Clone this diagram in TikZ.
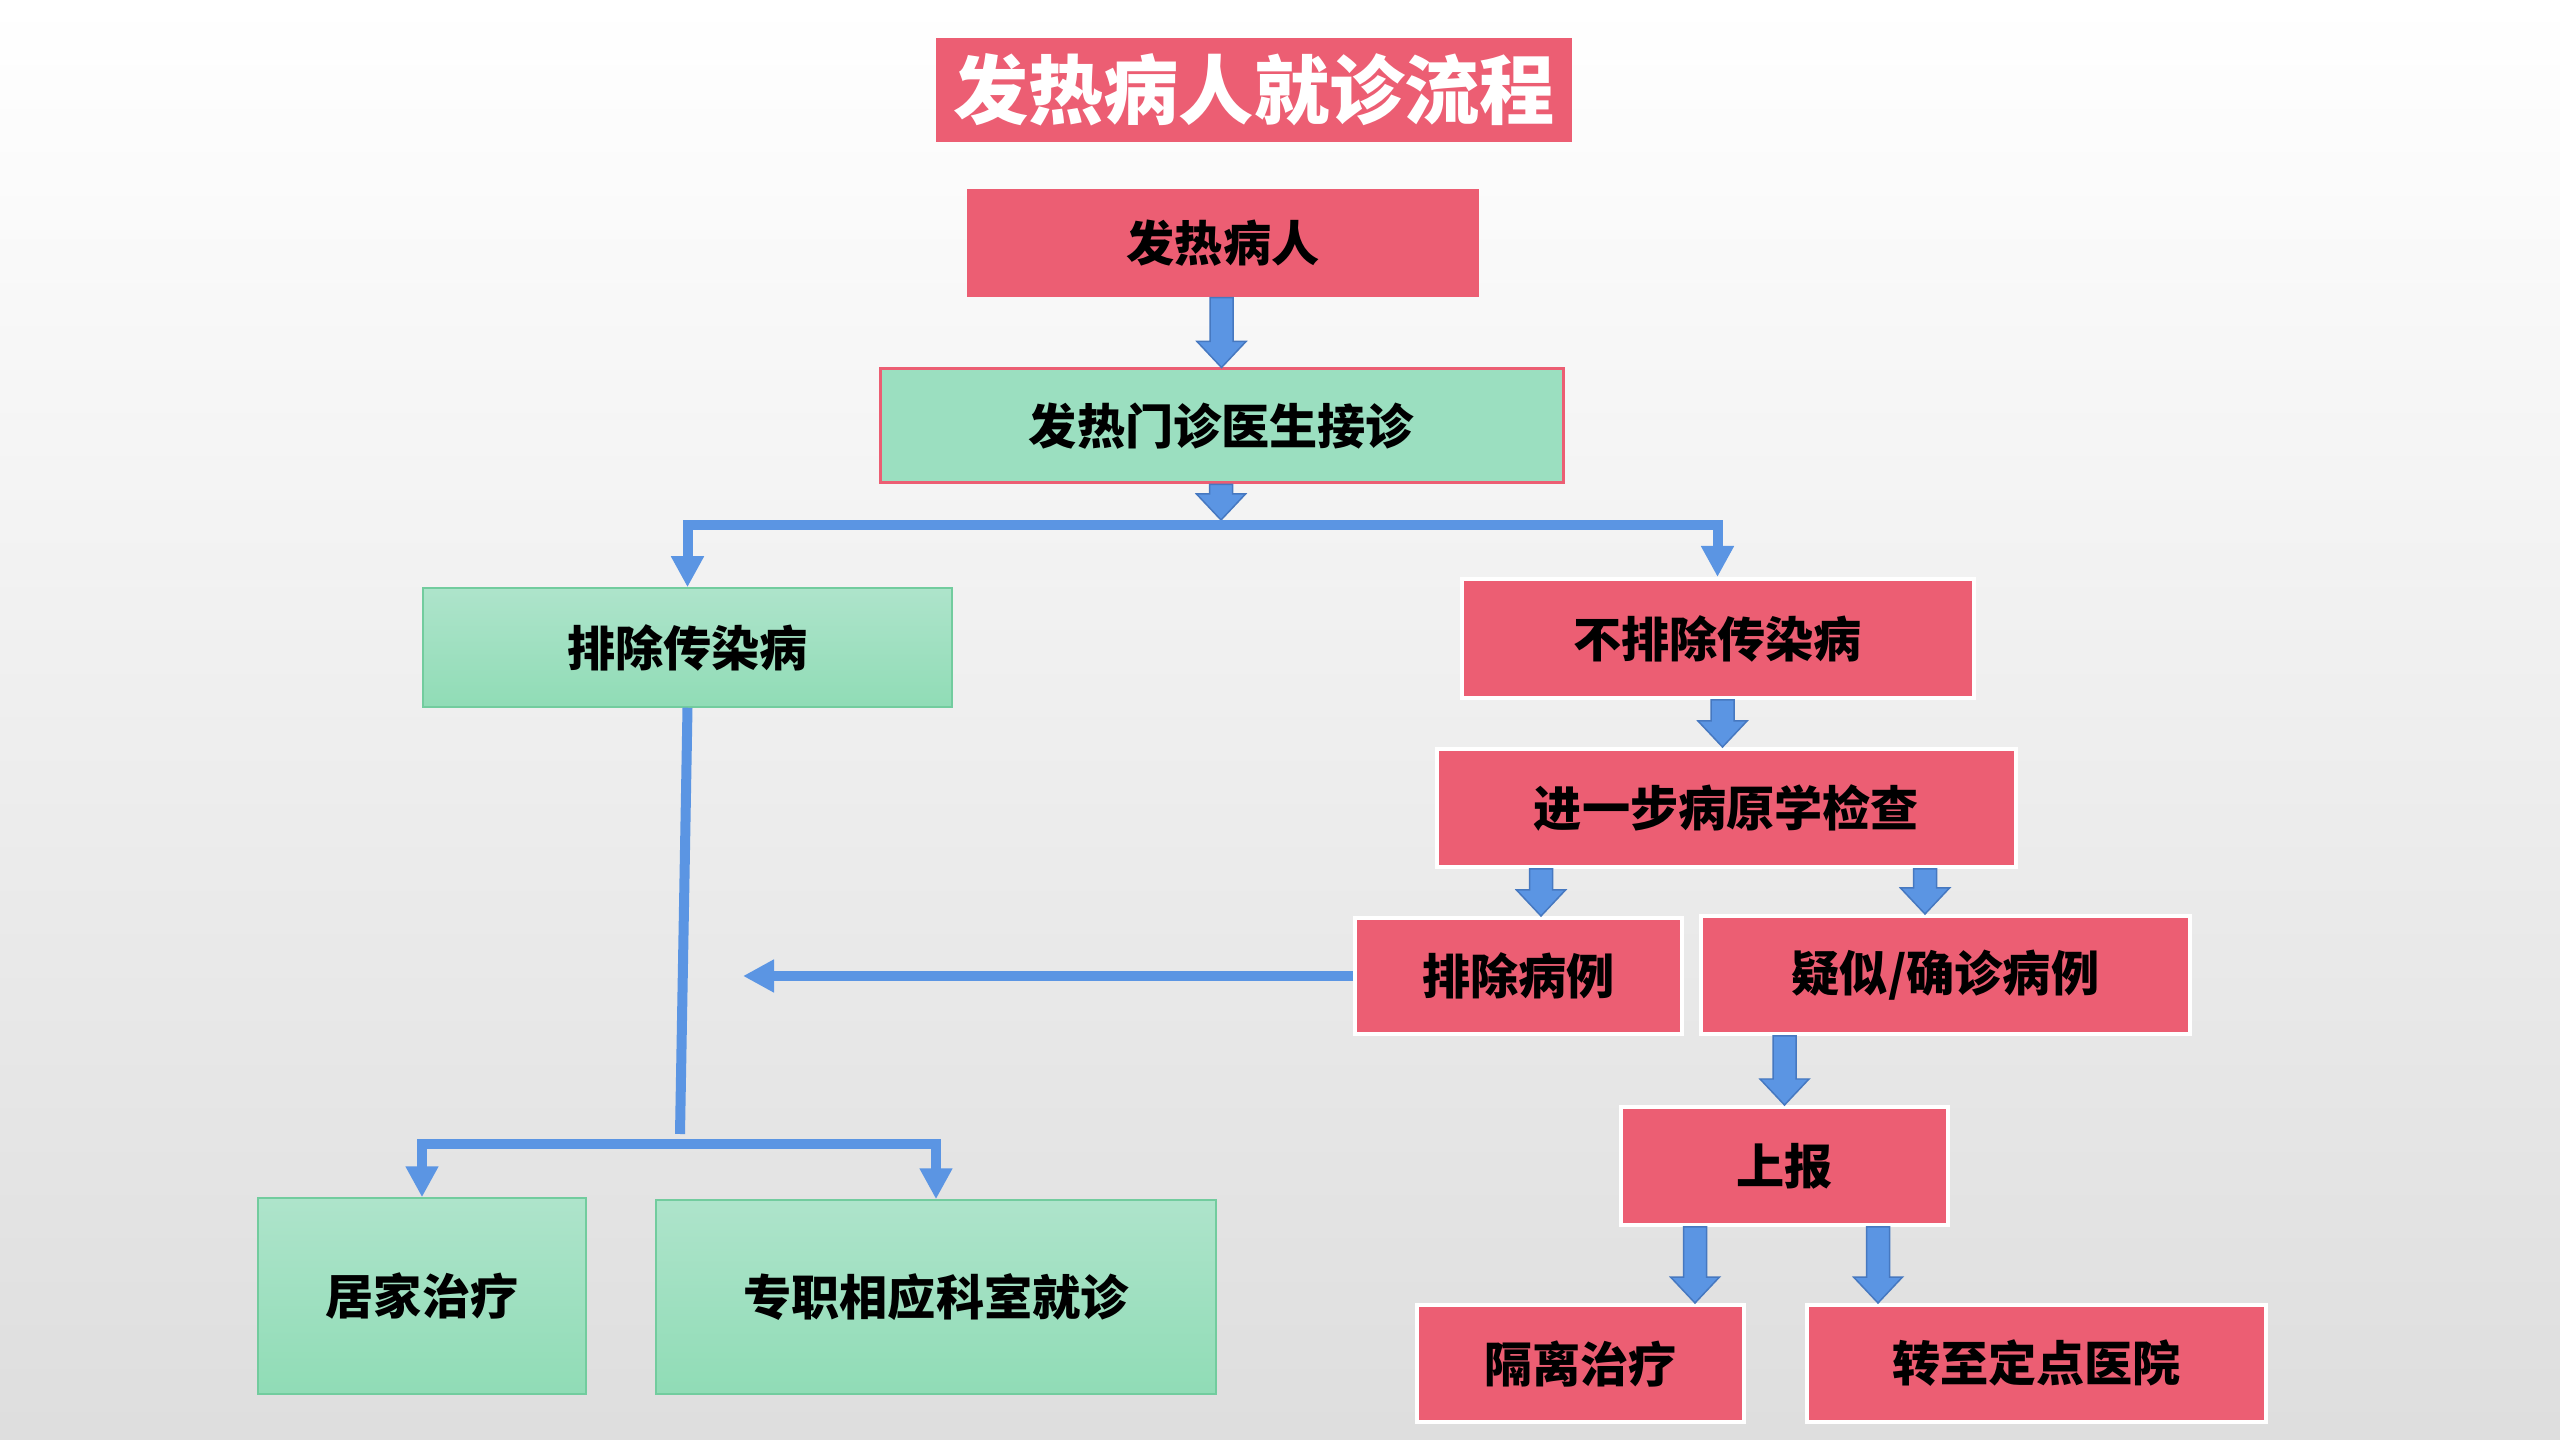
\documentclass[tikz,border=0pt]{standalone}
\usepackage{fontspec}
\usepackage{tikz}
\usetikzlibrary{arrows.meta,calc}
\newfontfamily\cjk{Noto Sans CJK SC}

\definecolor{boxred}{HTML}{EC5E73}
\definecolor{clinicgreen}{HTML}{9BDFC0}
\definecolor{greentop}{HTML}{AEE4CB}
\definecolor{greenbot}{HTML}{90DCB6}
\definecolor{greenline}{HTML}{72CC9E}
\definecolor{flowblue}{HTML}{5B95E3}
\definecolor{arrowedge}{HTML}{4678C0}

\begin{document}
\begin{tikzpicture}[x=0.1mm, y=-0.1mm,
    box/.style={rectangle, inner sep=0pt, text=black,
        font=\cjk\bfseries\fontsize{13.7pt}{16pt}\selectfont},
    redbox/.style={box, fill=boxred, draw=white, line width=0.4mm},
    greenbox/.style={box, top color=greentop, bottom color=greenbot,
        draw=greenline, line width=0.15mm},
    flow/.style={draw=flowblue, line width=1mm},
    flowtip/.tip={Triangle[width=3.1mm, length=3.1mm]},
    blockarrow/.style={draw=arrowedge, fill=flowblue, line width=0.15mm,
        to path={let \p1=(\tikztostart), \p2=(\tikztotarget) in
            (\x2-1.15mm,\y1) -- (\x2-1.15mm,\y2+2.6mm) -- (\x2-2.45mm,\y2+2.6mm)
            -- (\x2,\y2) -- (\x2+2.45mm,\y2+2.6mm) -- (\x2+1.15mm,\y2+2.6mm)
            -- (\x2+1.15mm,\y1) -- cycle}}]

    % background
    \fill[top color=white, bottom color=black!13] (0,0) rectangle (2560,1440);
    \useasboundingbox (0,0) rectangle (2560,1440);

    % title
    \node[box, fill=boxred, text=white, minimum width=63.6mm, minimum height=10.4mm,
        font=\cjk\bfseries\fontsize{21.4pt}{25pt}\selectfont] (title) at (1254,90) {发热病人就诊流程};

    \node[box, fill=boxred, minimum width=51.2mm, minimum height=10.8mm] (fever) at (1223,243) {发热病人};
    \node[box, fill=clinicgreen, draw=boxred, line width=0.3mm, minimum width=68.3mm,
        minimum height=11.4mm] (clinic) at (1221.5,426) {发热门诊医生接诊};

    % left branch
    \node[greenbox, minimum width=52.9mm, minimum height=11.9mm] (ruleout) at (687.5,647.5) {排除传染病};
    \node[greenbox, minimum width=32.8mm, minimum height=19.6mm] (home) at (422,1296) {居家治疗};
    \node[greenbox, minimum width=56mm, minimum height=19.4mm] (dept) at (936,1297) {专职相应科室就诊};

    % right branch
    \node[redbox, minimum width=51.2mm, minimum height=11.9mm] (notout) at (1717.5,638.5) {不排除传染病};
    \node[redbox, minimum width=57.9mm, minimum height=11.8mm] (check) at (1726.5,808) {进一步病原学检查};
    \node[redbox, minimum width=32.7mm, minimum height=11.6mm] (excl) at (1518.5,976) {排除病例};
    \node[redbox, minimum width=48.9mm, minimum height=11.8mm] (susp) at (1945.5,975) {疑似/确诊病例};
    \node[redbox, minimum width=32.7mm, minimum height=11.8mm] (report) at (1784.5,1166) {上报};
    \node[redbox, minimum width=32.7mm, minimum height=11.7mm] (isolate) at (1580.5,1363.5) {隔离治疗};
    \node[redbox, minimum width=45.9mm, minimum height=11.7mm] (transfer) at (2036.5,1363.5) {转至定点医院};

    \coordinate (fork) at (1221,525);
    \coordinate (merge) at (680,1134);
    \coordinate (fork2) at (680,1144);
    \coordinate (back) at (743,976);

    % block arrows
    \draw[blockarrow] (fever.south) to (clinic.north);
    \draw[blockarrow] (clinic.south) to ([yshift=0.5mm]fork);
    \draw[blockarrow] (notout.south) to ([xshift=-0.4mm]check.north);
    \draw[blockarrow] (check.south) to ([xshift=2.25mm]excl.north);
    \draw[blockarrow] (check.south) to ([xshift=-2.05mm]susp.north);
    \draw[blockarrow] (susp.south) to (report.north);
    \draw[blockarrow] (report.south) to ([xshift=11.45mm]isolate.north);
    \draw[blockarrow] (report.south) to ([xshift=-15.85mm]transfer.north);

    % line connectors
    \draw[flow, flowtip-flowtip] (ruleout.north) |- (fork) -| (notout.north);
    \draw[flow] (ruleout.south) -- (merge);
    \draw[flow, flowtip-flowtip] (home.north) |- (fork2) -| (dept.north);
    \draw[flow, -flowtip] (excl.west) -- (back);
\end{tikzpicture}
\end{document}
